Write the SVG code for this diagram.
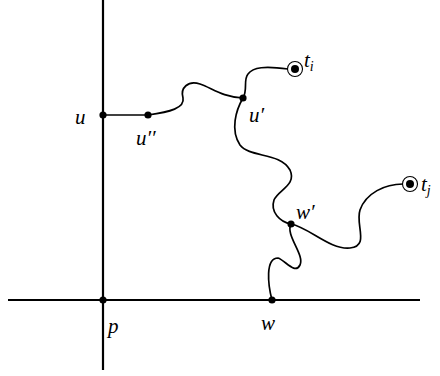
<svg xmlns="http://www.w3.org/2000/svg" width="440" height="376" viewBox="0 0 440 376">
<style>
.axis{stroke:#000;stroke-width:2.2;fill:none}
.path{stroke:#000;stroke-width:1.7;fill:none}
.dot{fill:#000}
.tgt{fill:#fff;stroke:#000;stroke-width:1.1}
.lbl{font-family:"Liberation Serif","DejaVu Serif",serif;font-style:italic;font-size:21px;fill:#000}
.sub{font-size:14px}
</style>
<rect width="440" height="376" fill="#fff"/>
<g id="connectors">
<line class="axis" x1="103" y1="0" x2="103" y2="370"/>
<line class="axis" x1="8" y1="300" x2="420" y2="300"/>
<line class="path" x1="103" y1="115" x2="148" y2="115"/>
<path class="path" d="M148,115 C170,112 185,108 183,98 C180,88 188,80 200,84 C212,88 222,97 243,98"/>
<path class="path" d="M243,98 C248,90 243,80 248,74 C253,67 265,66 288,69"/>
<path class="path" d="M243,98 C236,110 230,130 240,145 C250,158 280,152 290,170 C297,185 278,190 274,200 C270,212 280,222 291,224"/>
<path class="path" d="M291,224 C310,228 330,250 350,248 C370,246 355,225 360,210 C366,193 385,184 403,184"/>
<path class="path" d="M291,224 C285,235 305,255 300,265 C295,275 285,260 278,258 C265,258 268,285 272,300"/>
</g>
<g id="p"><circle class="dot" cx="103" cy="300" r="3.6"/><text class="lbl" x="108" y="333">p</text></g>
<g id="u"><circle class="dot" cx="103" cy="115" r="3.6"/><text class="lbl" x="75" y="124">u</text></g>
<g id="u2"><circle class="dot" cx="148" cy="115" r="3.6"/><text class="lbl" x="136" y="145">u′′</text></g>
<g id="u1"><circle class="dot" cx="243" cy="98" r="3.6"/><text class="lbl" x="249" y="122">u′</text></g>
<g id="ti"><circle class="tgt" cx="295" cy="69" r="7.5"/><circle class="dot" cx="295" cy="69" r="4"/><text class="lbl" x="304" y="67">t<tspan class="sub" dy="4">i</tspan></text></g>
<g id="w1"><circle class="dot" cx="291" cy="224" r="3.6"/><text class="lbl" x="296" y="219">w′</text></g>
<g id="tj"><circle class="tgt" cx="410" cy="184" r="7.5"/><circle class="dot" cx="410" cy="184" r="4"/><text class="lbl" x="421" y="191">t<tspan class="sub" dy="4">j</tspan></text></g>
<g id="w"><circle class="dot" cx="272" cy="300" r="3.6"/><text class="lbl" x="261" y="330">w</text></g>
</svg>
